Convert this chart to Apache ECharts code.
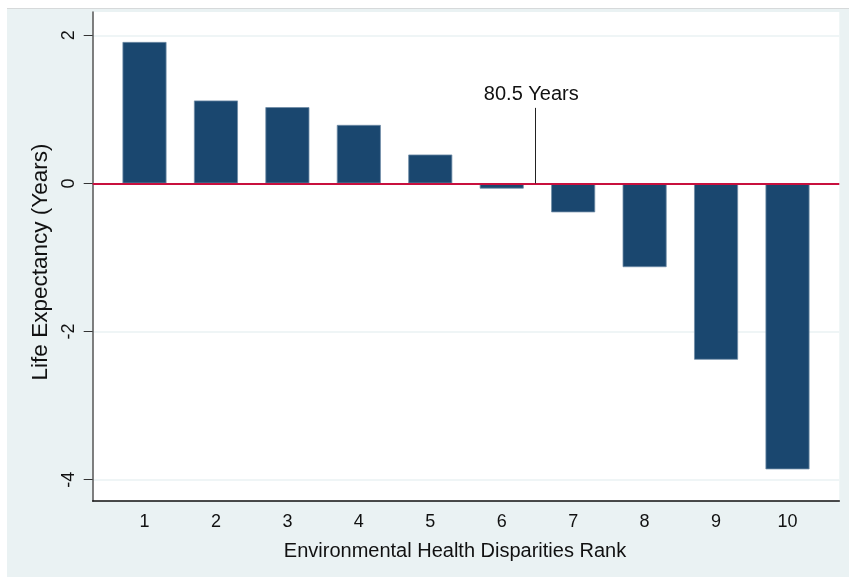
<!DOCTYPE html>
<html>
<head>
<meta charset="utf-8">
<script src="https://cdn.jsdelivr.net/npm/echarts@6/dist/echarts.min.js"></script>
<style>
  html, body { margin: 0; padding: 0; background: #ffffff; }
  #bg { position: absolute; left: 7px; top: 8px; right: 0; bottom: 0; background: #eaf2f3; border-top: 1px solid #d6d9da; }
  #chart { position: absolute; left: 0; top: 0; width: 849px; height: 577px; }
</style>
</head>
<body>
<div id="bg"></div>
<div id="chart"></div>
<script>
// ---- data ----
const ranks = [1, 2, 3, 4, 5, 6, 7, 8, 9, 10];
const lifeExpDiff = [1.91, 1.12, 1.03, 0.79, 0.39, -0.07, -0.39, -1.13, -2.38, -3.86];
const yTicks = [-4, -2, 0, 2];
const refLabel = '80.5 Years';
const refX = 6.47;
const refTop = 1.02;

const chart = echarts.init(document.getElementById('chart'), null, { renderer: 'canvas' });
const FONT = 'Liberation Sans, Arial, sans-serif';

const option = {
  animation: false,
  backgroundColor: 'transparent',
  grid: {
    left: 92.7, right: 9.7, top: 12, bottom: 76,
    show: true, backgroundColor: '#ffffff', borderWidth: 0
  },
  xAxis: {
    type: 'value',
    min: 0.275, max: 10.725,
    name: 'Environmental Health Disparities Rank',
    nameLocation: 'middle',
    nameGap: 40,
    nameTextStyle: { fontFamily: FONT, fontSize: 20, color: '#111', padding: [0, 22, 0, 0] },
    axisLine: { show: true, onZero: false, lineStyle: { color: '#111', width: 1.5 } },
    axisTick: { show: false },
    splitLine: { show: false },
    axisLabel: {
      customValues: ranks,
      fontFamily: FONT, fontSize: 18, color: '#111', margin: 12
    }
  },
  yAxis: {
    type: 'value',
    min: -4.2876, max: 2.3146,
    name: 'Life Expectancy (Years)',
    nameLocation: 'middle',
    nameGap: 40,
    nameTextStyle: { fontFamily: FONT, fontSize: 22.5, color: '#111', padding: [0, 11, 0, 0] },
    axisLine: { show: true, onZero: false, lineStyle: { color: '#555', width: 1.5 } },
    axisTick: { show: true, customValues: yTicks, length: 9, lineStyle: { color: '#333', width: 1 } },
    axisLabel: {
      customValues: yTicks,
      rotate: 90,
      fontFamily: FONT, fontSize: 18, color: '#111', margin: 15
    },
    splitLine: { show: true, lineStyle: { color: '#eaf2f3', width: 1.5 } }
  },
  series: [{
    type: 'bar',
    data: ranks.map((r, i) => [r, lifeExpDiff[i]]),
    barWidth: 44,
    itemStyle: { color: '#1a476f', borderColor: '#6f8ba6', borderWidth: 0.8 },
    markLine: {
      silent: true,
      symbol: 'none',
      animation: false,
      z: 10,
      data: [
        {
          yAxis: 0,
          lineStyle: { color: '#c8103e', width: 2, type: 'solid' },
          label: { show: false }
        },
        [
          { coord: [refX, 0], lineStyle: { color: '#222', width: 1, type: 'solid' } },
          {
            coord: [refX, refTop],
            label: {
              show: true, position: 'end', formatter: refLabel, distance: 3,
              padding: [0, 8, 0, 0],
              fontFamily: FONT, fontSize: 20, color: '#111'
            }
          }
        ]
      ]
    }
  }]
};
chart.setOption(option);
</script>
</body>
</html>
